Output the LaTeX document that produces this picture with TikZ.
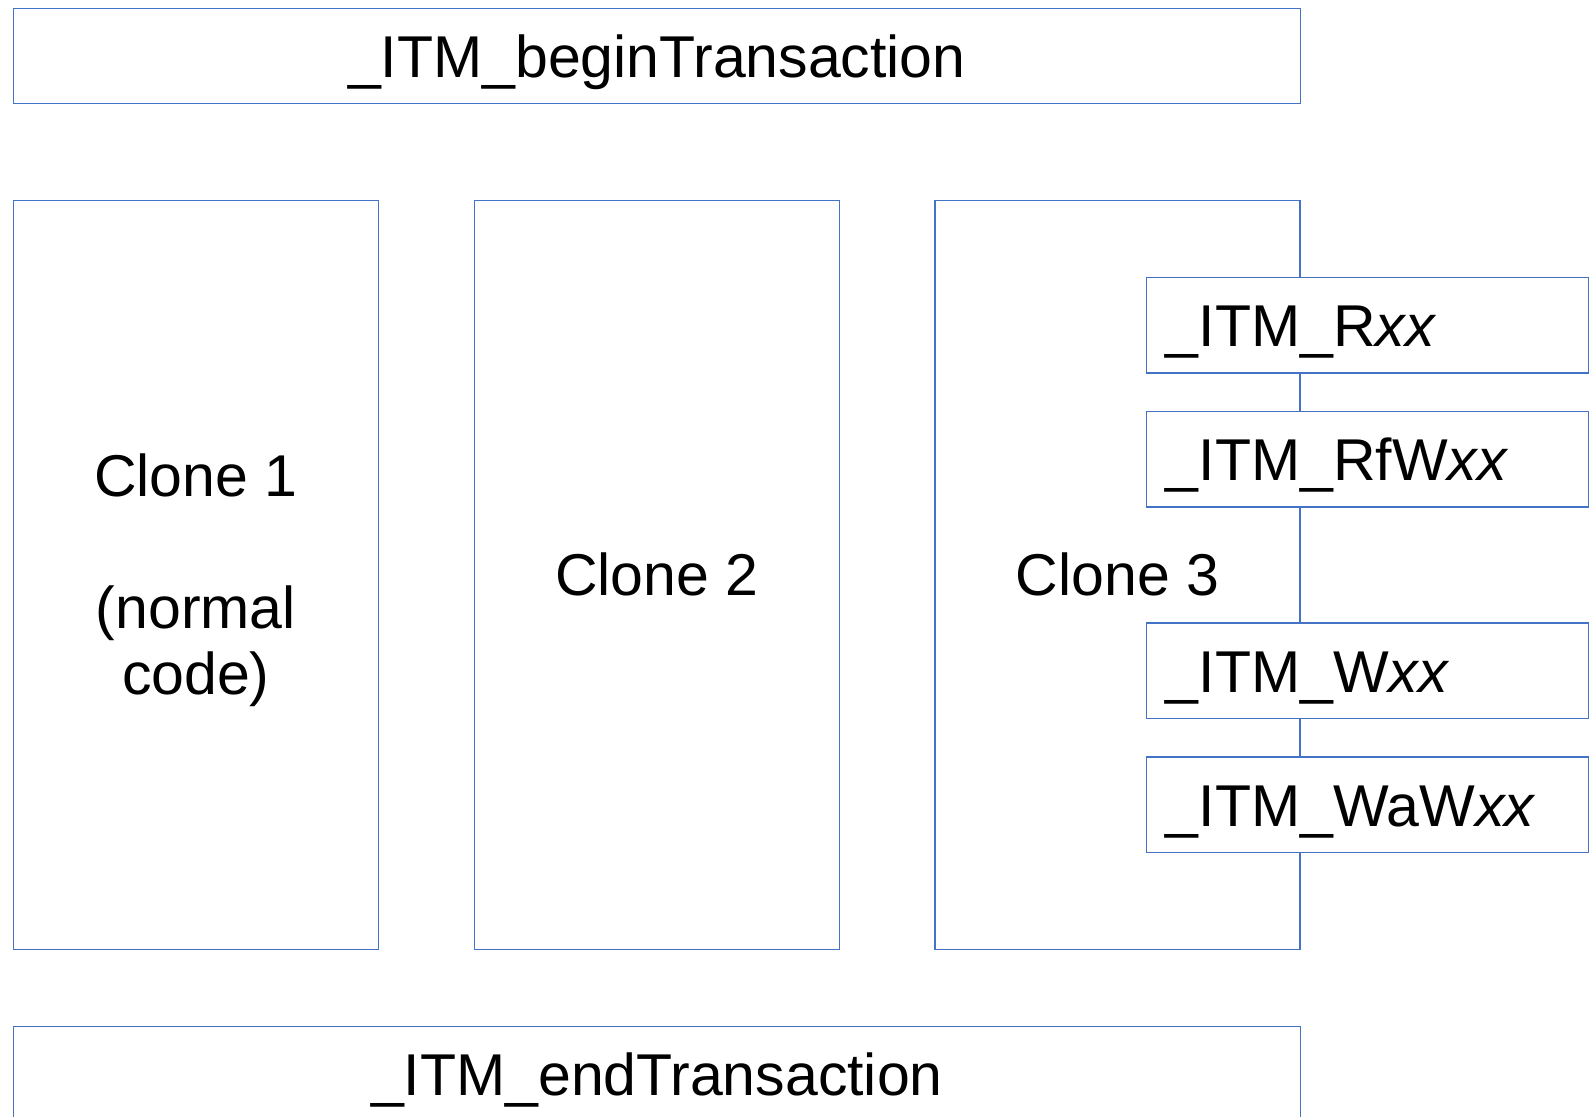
\documentclass[tikz,border=0pt]{standalone}
\usepackage{fontspec}
\setmainfont{Liberation Sans}
\definecolor{boxline}{RGB}{68,114,196}
\begin{document}
\begin{tikzpicture}[x=1pt,y=-1pt,
  frame/.style={draw=boxline, line width=1.3pt, rectangle, inner sep=0pt,
    anchor=north west, font=\fontsize{59}{66}\selectfont},
  bar/.style={frame, minimum width=1287, minimum height=95.3,
    text height=43pt, text depth=0pt},
  clonebox/.style={frame, minimum width=365, minimum height=748.5, align=center},
  clonetext/.style={inner sep=0pt, align=center, font=\fontsize{59}{66}\selectfont},
  callbox/.style={frame, fill=white, minimum height=95.7, inner xsep=19.5pt,
    text width=403pt, align=left, text height=43pt, text depth=0pt}]
  \useasboundingbox (0,0) rectangle (1594,1116);

  % transaction entry and exit
  \node[bar] (begin) at (12.7,7.7) {\_ITM\_beginTransaction};
  \node[bar] (end) at (12.7,1025.7) {\_ITM\_endTransaction};

  % the three clones of the transaction body
  \node[clonebox] (c1) at (12.7,200) {};
  \node[clonetext] (c1text) at ([yshift=-5pt]c1.center)
    {Clone 1\\[0pt]\mbox{}\\[0pt](normal\\code)};
  \node[clonebox] (c2) at (473.7,200) {Clone 2};
  \node[clonebox] (c3) at (934.3,200) {Clone 3};

  % instrumented barrier calls used by clone 3
  \node[callbox] (rd)  at (1145.7,276.7) {\_ITM\_R\textit{xx}};
  \node[callbox] (rfw) at (1145.7,410.7) {\_ITM\_RfW\textit{xx}};
  \node[callbox] (wr)  at (1145.7,622.3) {\_ITM\_W\textit{xx}};
  \node[callbox] (waw) at (1145.7,756.3) {\_ITM\_WaW\textit{xx}};
\end{tikzpicture}
\end{document}
